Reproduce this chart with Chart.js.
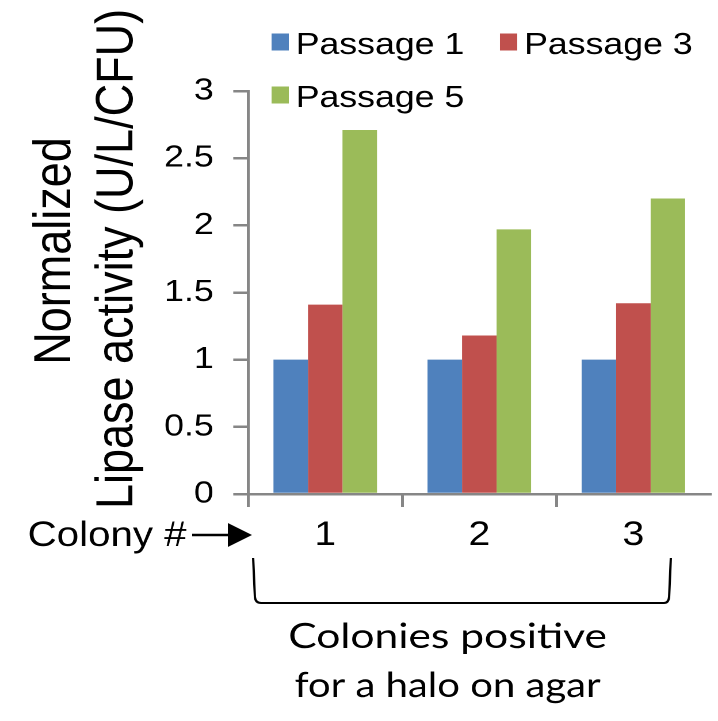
<!DOCTYPE html>
<html>
<head>
<meta charset="utf-8">
<script src="https://cdn.jsdelivr.net/npm/chart.js@4/dist/chart.umd.min.js"></script>
<style>
  html, body { margin: 0; padding: 0; background: #fff; overflow: hidden; }
  #lipaseChart { display: block; }
</style>
</head>
<body>
<!-- drawn narrower and shown stretched, like the original figure -->
<canvas id="lipaseChart" width="624" height="721" style="width:718px;height:721px"></canvas>
<script>
const colonies = ['1', '2', '3'];
const seriesLabels = ['Passage 1', 'Passage 3', 'Passage 5'];
const passage1 = [1.0, 1.0, 1.0];
const passage3 = [1.41, 1.18, 1.42];
const passage5 = [2.71, 1.97, 2.20];
const seriesColors = ['#4F81BD', '#C0504D', '#9BBB59'];
const yTickLabels = ['0', '0.5', '1', '1.5', '2', '2.5', '3'];
const yTitleLines = ['Normalized', 'Lipase activity (U/L/CFU)'];
const colonyLabel = 'Colony #';
const bottomNote = ['Colonies positive', 'for a halo on agar'];

const FONT = '"Liberation Sans", Arial, sans-serif';
const GREY = '#868686';

// everything that is not a bar or an axis: title, legend, arrow, bracket, note
const extras = {
    id: 'extras',
    afterDraw(chart) {
        const ctx = chart.ctx;
        ctx.save();
        ctx.fillStyle = '#000';
        ctx.strokeStyle = '#000';

        // y axis title, two rotated lines
        ctx.font = `45px ${FONT}`;
        ctx.textAlign = 'center';
        ctx.textBaseline = 'alphabetic';
        const titlePos = [[61, 251], [115, 259]];
        yTitleLines.forEach((line, i) => {
            ctx.save();
            ctx.translate(titlePos[i][0], titlePos[i][1]);
            ctx.rotate(-Math.PI / 2);
            ctx.fillText(line, 0, 0);
            ctx.restore();
        });

        // legend
        ctx.font = `31px ${FONT}`;
        ctx.textAlign = 'left';
        let lx = 236, ly = 42;
        chart.data.datasets.forEach(ds => {
            const w = 15 + 6 + ctx.measureText(ds.label).width;
            if (lx + w > 620) { lx = 236; ly += 53; }
            ctx.fillStyle = ds.backgroundColor;
            ctx.fillRect(lx, ly - 8.5, 15, 17);
            ctx.fillStyle = '#000';
            ctx.fillText(ds.label, lx + 21, ly + 12);
            lx += w + 31;
        });

        // Colony # with arrow
        ctx.font = `35px ${FONT}`;
        ctx.fillText(colonyLabel, 24, 546);
        ctx.lineWidth = 2.5;
        ctx.beginPath();
        ctx.moveTo(167, 535);
        ctx.lineTo(200, 535);
        ctx.stroke();
        ctx.beginPath();
        ctx.moveTo(198, 523);
        ctx.lineTo(219, 535);
        ctx.lineTo(198, 547);
        ctx.closePath();
        ctx.fill();

        // bracket under the colonies
        ctx.lineWidth = 2;
        ctx.beginPath();
        ctx.moveTo(220, 558);
        ctx.lineTo(221.5, 597);
        ctx.quadraticCurveTo(222, 603, 227, 603);
        ctx.lineTo(577, 603);
        ctx.quadraticCurveTo(581, 603, 581.5, 597);
        ctx.lineTo(583, 558);
        ctx.stroke();

        // note below the bracket, each line fitted to its width in the figure
        ctx.font = `35px Lato, "Open Sans", sans-serif`;
        ctx.textAlign = 'center';
        const noteY = [648, 697];
        const noteW = [277, 266];
        bottomNote.forEach((line, i) => {
            const sx = noteW[i] / ctx.measureText(line).width;
            ctx.save();
            ctx.translate(389, noteY[i]);
            ctx.scale(sx, 1);
            ctx.fillText(line, 0, 0);
            ctx.restore();
        });
        ctx.restore();
    }
};

const datasets = [passage1, passage3, passage5].map((vals, i) => ({
    label: seriesLabels[i],
    data: vals,
    backgroundColor: seriesColors[i],
    borderWidth: 0,
    categoryPercentage: 0.672,
    barPercentage: 1.0
}));

new Chart(document.getElementById('lipaseChart'), {
    type: 'bar',
    data: { labels: colonies, datasets: datasets },
    options: {
        responsive: false,
        animation: false,
        devicePixelRatio: 2,
        layout: { padding: { top: 91, right: 6.6, bottom: 0, left: 0 } },
        plugins: {
            legend: { display: false },
            tooltip: { enabled: false }
        },
        scales: {
            x: {
                offset: true,
                grid: {
                    offset: true,
                    drawOnChartArea: false,
                    drawTicks: true,
                    tickLength: 13,
                    lineWidth: 2.5,
                    color: c => c.type === 'tick' ? GREY : 'rgba(0,0,0,0)'
                },
                border: { color: GREY, width: 2.5 },
                ticks: { color: '#000', font: { family: FONT, size: 34 }, padding: 8 },
                afterFit: scale => { scale.height = 227; }
            },
            y: {
                min: 0,
                max: 3,
                grid: {
                    drawOnChartArea: false,
                    drawTicks: true,
                    tickLength: 13,
                    lineWidth: 2.5,
                    color: GREY
                },
                border: { color: GREY, width: 2.5 },
                ticks: {
                    stepSize: 0.5,
                    color: '#000',
                    font: { family: FONT, size: 31 },
                    padding: 17,
                    callback: (value, i) => yTickLabels[i]
                },
                afterFit: scale => { scale.width = 215.7; }
            }
        }
    },
    plugins: [extras]
});
</script>
</body>
</html>
